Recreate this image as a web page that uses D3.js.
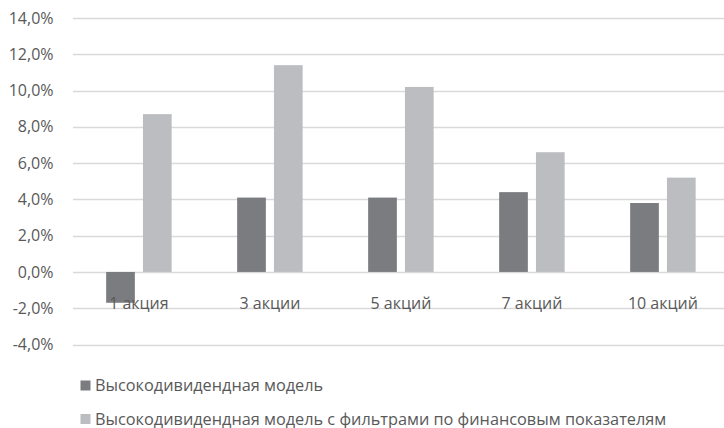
<!DOCTYPE html>
<html>
<head>
<meta charset="utf-8">
<script src="https://cdn.jsdelivr.net/npm/d3@7"></script>
<style>
  html, body { margin: 0; padding: 0; background: #fff; }
  svg { display: block; }
  text { font-family: "Open Sans", "Noto Sans", sans-serif; fill: #595959; }
</style>
</head>
<body>
<svg id="chart" width="724" height="428"></svg>
<script>
// Portfolio size categories
const categories = ["1 акция", "3 акции", "5 акций", "7 акций", "10 акций"];
// Returns, %
const highDividend = [-1.7, 4.1, 4.1, 4.4, 3.8];
const highDividendFiltered = [8.7, 11.4, 10.2, 6.6, 5.2];
const seriesNames = [
  "Высокодивидендная модель",
  "Высокодивидендная модель с фильтрами по финансовым показателям"
];
const yTicks = [-4, -2, 0, 2, 4, 6, 8, 10, 12, 14];

const colors = ["#7b7c80", "#bcbdc1"];
const series = [highDividend, highDividendFiltered];

const svg = d3.select("#chart");
const W = 724;
const FS = 16;

const y = d3.scaleLinear().domain([-4, 14]).range([344.5, 18]);
const x = d3.scaleBand().domain(categories).range([73.4, 728.4]).paddingInner(0.5).paddingOuter(0.25);
const inner = d3.scaleBand().domain([0, 1]).range([0, x.bandwidth()]).paddingInner(0.22);

const fmt = v => d3.format(".1f")(v).replace(".", ",").replace("−", "-") + "%";

// Gridlines
svg.append("g")
  .selectAll("line")
  .data(yTicks)
  .join("line")
  .attr("x1", 73)
  .attr("x2", W)
  .attr("y1", d => Math.round(y(d)) + 0.5)
  .attr("y2", d => Math.round(y(d)) + 0.5)
  .attr("stroke", "#d9d9d9")
  .attr("stroke-width", 1.3);

// Y axis labels
const yAxis = d3.axisLeft(y).tickValues(yTicks).tickFormat(fmt).tickSize(0).tickPadding(0);
const gy = svg.append("g").attr("transform", "translate(53.5,0)").call(yAxis);
gy.select(".domain").remove();
gy.selectAll("text")
  .attr("font-size", FS)
  .style("font-family", "'Open Sans', 'Noto Sans', sans-serif")
  .attr("fill", "#595959");

// Bars
const groups = svg.append("g")
  .selectAll("g")
  .data(categories)
  .join("g")
  .attr("transform", d => `translate(${x(d)},0)`);

groups.selectAll("rect")
  .data((d, i) => series.map((s, k) => ({ k, v: s[i] })))
  .join("rect")
  .attr("x", d => inner(d.k))
  .attr("width", inner.bandwidth())
  .attr("y", d => y(Math.max(0, d.v)))
  .attr("height", d => Math.abs(y(d.v) - y(0)))
  .attr("fill", d => colors[d.k]);

// Category labels (sit on the -2% line)
svg.append("g")
  .selectAll("text")
  .data(categories)
  .join("text")
  .attr("x", d => x(d) + x.bandwidth() / 2)
  .attr("y", 309)
  .attr("text-anchor", "middle")
  .attr("font-size", FS)
  .text(d => d);

// Legend
const legend = svg.append("g")
  .selectAll("g")
  .data(seriesNames)
  .join("g")
  .attr("transform", (d, i) => `translate(80.5,${380.5 + i * 33.5})`);

legend.append("rect")
  .attr("width", 10)
  .attr("height", 10)
  .attr("fill", (d, i) => colors[i]);

legend.append("text")
  .attr("x", 14.5)
  .attr("y", 10.5)
  .attr("font-size", 16.3)
  .text(d => d);
</script>
</body>
</html>
